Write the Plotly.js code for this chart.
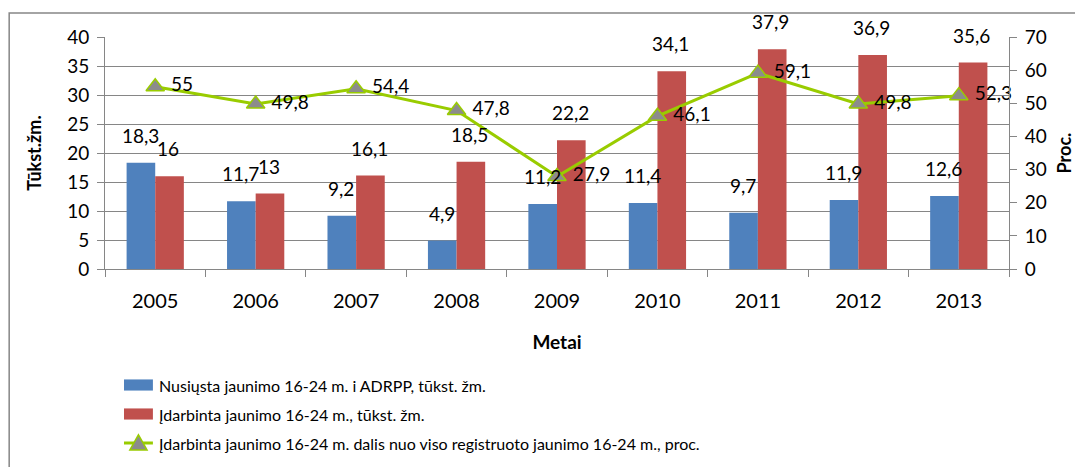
<!DOCTYPE html>
<html><head><meta charset="utf-8">
<script src="https://cdn.plot.ly/plotly-3.0.1.min.js"></script>
<style>html,body{margin:0;padding:0;background:#fff;}#chart{width:1075px;height:467px;}</style>
</head><body><div id="chart"></div>
<script>
const years = ['2005','2006','2007','2008','2009','2010','2011','2012','2013'];
const sentYouth = [18.3, 11.7, 9.2, 4.9, 11.2, 11.4, 9.7, 11.9, 12.6];
const employedYouth = [16, 13, 16.1, 18.5, 22.2, 34.1, 37.9, 36.9, 35.6];
const employedShare = [55, 49.8, 54.4, 47.8, 27.9, 46.1, 59.1, 49.8, 52.3];
const seriesNames = [
  'Nusiųsta jaunimo 16-24 m. i ADRPP, tūkst. žm.',
  'Įdarbinta jaunimo 16-24 m., tūkst. žm.',
  'Įdarbinta jaunimo 16-24 m. dalis nuo viso registruoto jaunimo 16-24 m., proc.'
];
const BLUE = '#4F81BD', RED = '#C0504D', GREEN = '#99CC00', GREY = '#8C8C8C';
const fmt = v => String(v).replace('.', ',');
const TXT = 'Lato, Open Sans, sans-serif';
const LBL = 19;

const traces = [
  {type:'bar', name:seriesNames[0], x:years, y:sentYouth, marker:{color:BLUE}},
  {type:'bar', name:seriesNames[1], x:years, y:employedYouth, marker:{color:RED}},
  {type:'scatter', mode:'lines+markers+text', name:seriesNames[2], x:years, y:employedShare,
   yaxis:'y2', text:employedShare.map(v => ' ' + fmt(v)), textposition:'middle right', cliponaxis:false,
   textfont:{family:TXT, size:LBL, color:'#000'},
   line:{color:GREEN, width:3},
   marker:{symbol:'triangle-up', size:16, color:GREY, line:{color:GREEN, width:1.5}}}
];

// category axis: annotation x uses the category index
const annotations = [];
years.forEach((yr, i) => {
  annotations.push({x:i, y:sentYouth[i], xref:'x', yref:'y', text:fmt(sentYouth[i]), showarrow:false,
    xshift:-15, yshift:14, yanchor:'bottom', font:{family:TXT, size:LBL, color:'#000'}});
  annotations.push({x:i, y:employedYouth[i], xref:'x', yref:'y', text:fmt(employedYouth[i]), showarrow:false,
    xshift:13, yshift:14, yanchor:'bottom', font:{family:TXT, size:LBL, color:'#000'}});
});

// hand-built legend (paper coordinates below the plot area)
const legRows = [-0.5, -0.625, -0.75];
const symX0 = 0.021, symX1 = 0.053, symH = 0.024, txtX = 0.0575;
const symXc = (symX0 + symX1) / 2;
const shapes = [
  {type:'rect', xref:'paper', yref:'paper', x0:-0.106, x1:1.2, y0:-1.2, y1:1.103,
   line:{color:'#868686', width:1.5}, fillcolor:'rgba(0,0,0,0)', layer:'below'},
  {type:'rect', xref:'paper', yref:'paper', x0:symX0, x1:symX1, y0:legRows[0]-symH, y1:legRows[0]+symH,
   fillcolor:BLUE, line:{width:0}},
  {type:'rect', xref:'paper', yref:'paper', x0:symX0, x1:symX1, y0:legRows[1]-symH, y1:legRows[1]+symH,
   fillcolor:RED, line:{width:0}},
  {type:'line', xref:'paper', yref:'paper', x0:symX0, x1:symX1, y0:legRows[2], y1:legRows[2],
   line:{color:GREEN, width:3}},
  {type:'path', xref:'paper', yref:'paper',
   path:`M ${symXc-0.0095},${legRows[2]-0.03} L ${symXc+0.0095},${legRows[2]-0.03} L ${symXc},${legRows[2]+0.035} Z`,
   fillcolor:GREY, line:{color:GREEN, width:1.5}}
];
seriesNames.forEach((nm, k) => {
  annotations.push({xref:'paper', yref:'paper', x:txtX, y:legRows[k], xanchor:'left', yanchor:'middle',
    text:nm, showarrow:false, font:{family:TXT, size:16, color:'#000'}});
});

const layout = {
  width:1075, height:467,
  margin:{l:105, r:66, t:37, b:198},
  paper_bgcolor:'#fff', plot_bgcolor:'#fff',
  font:{family:TXT, color:'#000'},
  separators:', ',
  barmode:'group', bargap:0.43, bargroupgap:0,
  showlegend:false,
  xaxis:{type:'category', range:[-0.5, 8.5], autorange:false, tickson:'boundaries', ticks:'outside',
         ticklen:7, tickcolor:'#868686', tickangle:0,
         showline:true, linecolor:'#868686', linewidth:1, showgrid:false,
         tickfont:{family:TXT, size:20}, ticklabelstandoff:14,
         title:{text:'<b>Metai</b>', font:{family:TXT, size:19}, standoff:24}},
  yaxis:{range:[0,40], dtick:5, ticks:'outside', ticklen:7, tickcolor:'#868686',
         showline:true, linecolor:'#868686', showgrid:true, gridcolor:'#868686', gridwidth:1,
         zeroline:false, tickfont:{family:TXT, size:19}, ticklabelstandoff:4,
         title:{text:'<b>Tūkst.žm.</b>', font:{family:TXT, size:18}, standoff:20}},
  yaxis2:{range:[0,70], dtick:10, overlaying:'y', side:'right', ticks:'outside', ticklen:7,
          tickcolor:'#868686', showline:true, linecolor:'#868686', showgrid:false, zeroline:false,
          tickfont:{family:TXT, size:19}, ticklabelstandoff:4,
          title:{text:'<b>Proc.</b>', font:{family:TXT, size:18}, standoff:12}},
  annotations:annotations,
  shapes:shapes
};
Plotly.newPlot('chart', traces, layout, {displayModeBar:false, staticPlot:true});
</script></body></html>
